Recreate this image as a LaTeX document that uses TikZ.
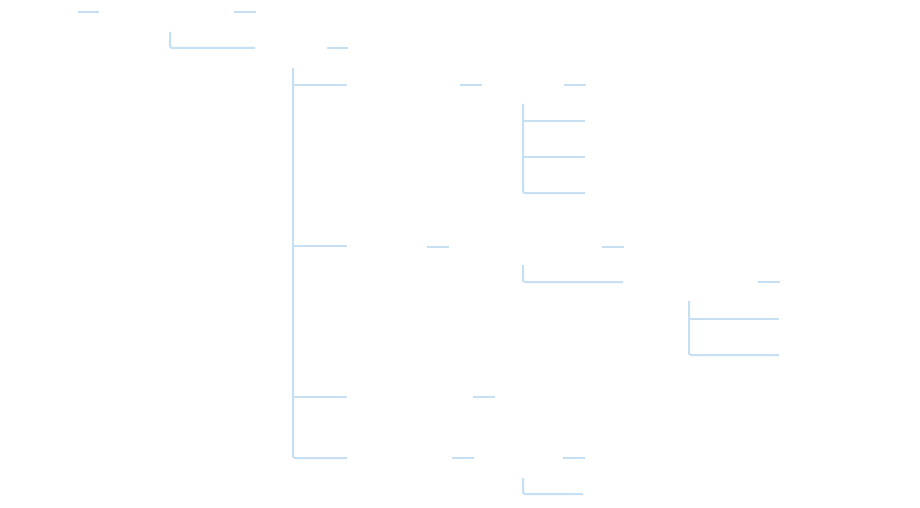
\documentclass[tikz,border=0pt]{standalone}
\usepackage{xcolor}
\usepackage{tikz}
\definecolor{CC6DFF3}{HTML}{C6DFF3}
\definecolor{CFFFFFF}{HTML}{FFFFFF}

\begin{document}
\begin{tikzpicture}[x=1pt,y=-1pt,branch/.style={line width=2pt,draw=CC6DFF3,rounded corners=2pt}]
\path [fill=CFFFFFF,use as bounding box] (0,0) rectangle (920,508);

\coordinate (n0) at (78pt,-12pt);
\coordinate (n1) at (99pt,-12pt);
\coordinate (n2) at (234pt,-12pt);
\coordinate (n3) at (256pt,-12pt);
\coordinate (n4) at (170pt,-32pt);
\coordinate (n5) at (255pt,-48pt);
\coordinate (n6) at (327pt,-48pt);
\coordinate (n7) at (348pt,-48pt);
\coordinate (n8) at (293pt,-68pt);
\coordinate (n9) at (347pt,-85pt);
\coordinate (n10) at (347pt,-246pt);
\coordinate (n11) at (347pt,-397pt);
\coordinate (n12) at (347pt,-458pt);
\coordinate (n13) at (460pt,-85pt);
\coordinate (n14) at (482pt,-85pt);
\coordinate (n15) at (564pt,-85pt);
\coordinate (n16) at (586pt,-85pt);
\coordinate (n17) at (523pt,-104pt);
\coordinate (n18) at (585pt,-121pt);
\coordinate (n19) at (585pt,-157pt);
\coordinate (n20) at (585pt,-193pt);
\coordinate (n21) at (427pt,-247pt);
\coordinate (n22) at (449pt,-247pt);
\coordinate (n23) at (602pt,-247pt);
\coordinate (n24) at (624pt,-247pt);
\coordinate (n25) at (523pt,-265pt);
\coordinate (n26) at (623pt,-282pt);
\coordinate (n27) at (758pt,-282pt);
\coordinate (n28) at (780pt,-282pt);
\coordinate (n29) at (689pt,-301pt);
\coordinate (n30) at (779pt,-319pt);
\coordinate (n31) at (779pt,-355pt);
\coordinate (n32) at (473pt,-397pt);
\coordinate (n33) at (495pt,-397pt);
\coordinate (n34) at (452pt,-458pt);
\coordinate (n35) at (474pt,-458pt);
\coordinate (n36) at (563pt,-458pt);
\coordinate (n37) at (585pt,-458pt);
\coordinate (n38) at (523pt,-478pt);
\coordinate (n39) at (583pt,-494pt);


\path [branch](n0)--(n1);
\path [branch](n2)--(n3);
\path [branch](n4)|-(n5);
\path [branch](n6)--(n7);

\path [branch](n8)|-(n12);
\path [branch](n8|-n9)--(n9);
\path [branch](n8|-n10)--(n10);
\path [branch](n8|-n11)--(n11);

\path [branch](n13)--(n14);
\path [branch](n15)--(n16);
\path [branch](n17)|-(n20);
\path [branch](n17|-n18)--(n18);
\path [branch](n17|-n19)--(n19);

\path [branch](n21)--(n22);
\path [branch](n23)--(n24);
\path [branch](n25)|-(n26);
\path [branch](n27)--(n28);
\path [branch](n29)|-(n31);
\path [branch](n29|-n30)--(n30);

\path [branch](n32)--(n33);

\path [branch](n34)--(n35);
\path [branch](n36)--(n37);
\path [branch](n38)|-(n39);
\end{tikzpicture}
\end{document}
